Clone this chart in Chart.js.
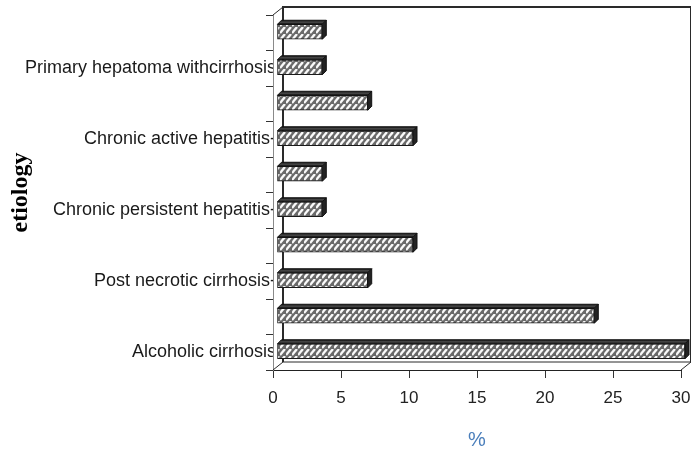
<!DOCTYPE html>
<html>
<head>
<meta charset="utf-8">
<script src="https://cdn.jsdelivr.net/npm/chart.js@4/dist/chart.umd.min.js"></script>
<style>
  body { margin: 0; background: #fff; }
  canvas { display: block; }
</style>
</head>
<body>
<canvas id="myChart" width="691" height="456"></canvas>
<script>
const labels = [
    '',
    'Primary hepatoma withcirrhosis',
    '',
    'Chronic active hepatitis-',
    '',
    'Chronic persistent hepatitis-',
    '',
    'Post necrotic cirrhosis-',
    '',
    'Alcoholic cirrhosis'
]
const values = [3.33, 3.33, 6.67, 10, 3.33, 3.33, 10, 6.67, 23.33, 30]
const xTicks = [0, 5, 10, 15, 20, 25, 30]

// hatch fill for the bar fronts
function hatch() {
    const c = document.createElement('canvas')
    c.width = 6
    c.height = 7
    const g = c.getContext('2d')
    g.fillStyle = '#6a6a6a'
    g.fillRect(0, 0, 6, 7)
    g.strokeStyle = '#fafafa'
    g.lineWidth = 2.4
    g.beginPath()
    g.moveTo(0, 6)
    g.lineTo(5, 0)
    g.stroke()
    return g.createPattern(c, 'repeat')
}

const DX = 10, DY = -8   // depth of the frame
const BX = 4, BY = -4    // depth of each bar
const SHIFT = 4

const frame3d = {
    id: 'frame3d',
    beforeDatasetsDraw(chart) {
        const {ctx, chartArea: a} = chart
        ctx.save()
        ctx.strokeStyle = '#2a2a2a'
        ctx.lineWidth = 2
        ctx.beginPath()
        ctx.moveTo(a.left + DX, a.bottom + DY)
        ctx.lineTo(a.left + DX, a.top + DY)
        ctx.lineTo(a.right + DX, a.top + DY)
        ctx.lineTo(a.right + DX, a.bottom + DY)
        ctx.stroke()
        ctx.lineWidth = 1
        ctx.beginPath()
        ctx.moveTo(a.left + DX, a.bottom + DY)
        ctx.lineTo(a.right + DX, a.bottom + DY)
        ctx.moveTo(a.left, a.bottom)
        ctx.lineTo(a.left + DX, a.bottom + DY)
        ctx.moveTo(a.right, a.bottom)
        ctx.lineTo(a.right + DX, a.bottom + DY)
        ctx.moveTo(a.left, a.top)
        ctx.lineTo(a.left + DX, a.top + DY)
        ctx.stroke()
        ctx.restore()
        ctx.save()
        ctx.translate(SHIFT, -1)
    },
    afterDatasetsDraw(chart) {
        const {ctx} = chart
        chart.getDatasetMeta(0).data.forEach(bar => {
            const p = bar.getProps(['x', 'y', 'base', 'height'], true)
            const x0 = p.base, x1 = p.x
            const y0 = p.y - p.height / 2, y1 = p.y + p.height / 2
            const gr = ctx.createLinearGradient(0, y0 + BY, 0, y0)
            gr.addColorStop(0, '#111')
            gr.addColorStop(0.5, '#4a4a4a')
            gr.addColorStop(1, '#111')
            ctx.fillStyle = gr
            ctx.strokeStyle = '#111'
            ctx.lineWidth = 1
            ctx.beginPath()
            ctx.moveTo(x0, y0)
            ctx.lineTo(x0 + BX, y0 + BY)
            ctx.lineTo(x1 + BX, y0 + BY)
            ctx.lineTo(x1, y0)
            ctx.closePath()
            ctx.fill()
            ctx.stroke()
            ctx.fillStyle = '#222'
            ctx.beginPath()
            ctx.moveTo(x1, y0)
            ctx.lineTo(x1 + BX, y0 + BY)
            ctx.lineTo(x1 + BX, y1 + BY)
            ctx.lineTo(x1, y1)
            ctx.closePath()
            ctx.fill()
            ctx.stroke()
        })
        ctx.restore()
    }
}

const data = {
    labels,
    datasets: [{
        data: values,
        backgroundColor: hatch(),
        borderColor: '#1a1a1a',
        borderWidth: 1,
        borderSkipped: false,
        barThickness: 15,
        clip: false
    }]
}

const config = {
    type: 'bar',
    data: data,
    plugins: [frame3d],
    options: {
        indexAxis: 'y',
        responsive: false,
        animation: false,
        layout: {
            padding: {top: 15, right: 10, bottom: 0, left: 0}
        },
        plugins: {
            legend: {display: false},
            tooltip: {enabled: false}
        },
        scales: {
            x: {
                min: 0,
                max: 30,
                afterBuildTicks: (s) => { s.ticks = xTicks.map(v => ({value: v})) },
                afterFit: (s) => { s.height = 86; s.paddingRight = 0; s.paddingLeft = 0 },
                grid: {
                    drawOnChartArea: false,
                    tickLength: 8,
                    color: '#333'
                },
                border: {color: '#222', width: 1},
                ticks: {
                    color: '#222',
                    padding: 10,
                    font: {family: 'Liberation Sans', size: 17}
                },
                title: {
                    display: true,
                    text: '%',
                    color: '#4a7ebb',
                    padding: {top: 0, bottom: 4},
                    font: {family: 'Liberation Sans', size: 20}
                }
            },
            y: {
                afterFit: (s) => { s.width = 273; s.paddingTop = 0; s.paddingBottom = 0 },
                grid: {
                    drawOnChartArea: false,
                    tickLength: 7,
                    color: '#333'
                },
                border: {color: '#8a8a8a', width: 1},
                ticks: {
                    color: '#1a1a1a',
                    padding: -10,
                    autoSkip: false,
                    font: {family: 'Liberation Sans', size: 18}
                },
                title: {
                    display: true,
                    text: 'etiology',
                    color: '#000',
                    padding: {top: 6, bottom: 0},
                    font: {family: 'Liberation Serif', size: 24, weight: 'bold'}
                }
            }
        }
    }
}

const myChart = new Chart(document.getElementById('myChart').getContext('2d'), config)
</script>
</body>
</html>
